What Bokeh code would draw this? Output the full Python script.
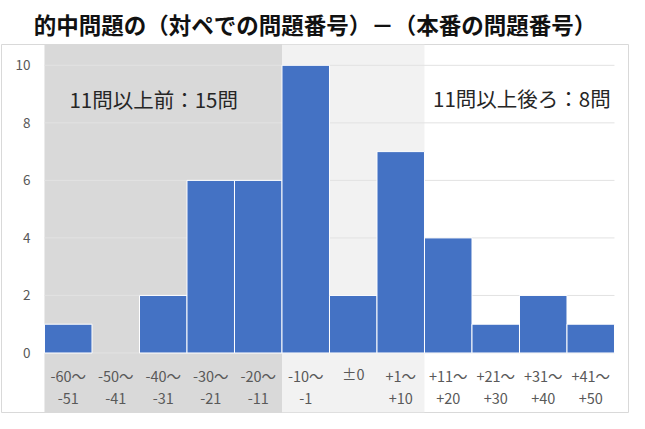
from bokeh.plotting import figure
from bokeh.models import Range1d
from bokeh.core.properties import value
from bokeh.embed import file_html
from bokeh.resources import INLINE

# ---- data ----
title_text = "的中問題の（対ペでの問題番号）－（本番の問題番号）"
cat_line1 = ["-60～", "-50～", "-40～", "-30～", "-20～", "-10～", "±0", "+1～", "+11～", "+21～", "+31～", "+41～"]
cat_line2 = ["-51", "-41", "-31", "-21", "-11", "-1", "", "+10", "+20", "+30", "+40", "+50"]
counts = [1, 0, 2, 6, 6, 10, 2, 7, 4, 1, 2, 1]
y_ticks = [0, 2, 4, 6, 8, 10]
tick_labels = ["0", "2", "4", "6", "8", "10"]
before_label = "11問以上前：15問"
after_label = "11問以上後ろ：8問"
before_count = 5   # categories in the "before" zone
near_count = 3     # categories in the "near" zone

FONT = "Noto Sans CJK JP"
n = len(counts)

# ---- ranges ----
X_LEFT, X_RIGHT = -0.905, n + 0.295
Y_BOT, Y_TOP = -2.069, 10.724

p = figure(width=629, height=413, output_backend="svg", toolbar_location=None,
           x_range=Range1d(X_LEFT, X_RIGHT), y_range=Range1d(Y_BOT, Y_TOP),
           x_axis_location=None, y_axis_location=None,
           min_border_left=1, min_border_right=1, min_border_top=41, min_border_bottom=1)
p.grid.visible = False
p.outline_line_color = "#d9d9d9"
p.outline_line_width = 1
p.background_fill_color = "white"
p.border_fill_color = "white"

p.title.text = title_text
p.title.align = "center"
p.title.text_font = FONT
p.title.text_font_size = "22.5px"
p.title.text_font_style = "bold"
p.title.text_color = "#111111"

# background zones
p.quad(left=[0, before_count], right=[before_count, before_count + near_count],
       bottom=[Y_BOT, Y_BOT], top=[Y_TOP, Y_TOP],
       fill_color=["#d9d9d9", "#f2f2f2"], line_color=None)

# gridlines
p.segment(x0=[0] * len(y_ticks), x1=[n] * len(y_ticks), y0=y_ticks, y1=y_ticks,
          line_color="#e2e2e2", line_width=1)

# bars
nz = [i for i in range(n) if counts[i] > 0]
p.quad(left=[i for i in nz], right=[i + 1 for i in nz], bottom=[0] * len(nz),
       top=[counts[i] for i in nz], fill_color="#4472C4", line_color="white", line_width=1)

# y tick labels
p.text(x=[-0.295] * len(y_ticks), y=y_ticks, text=tick_labels,
       text_font=value(FONT), text_font_size="13.5px", text_color="#595959",
       text_align="right", text_baseline="middle")

# category labels
centers = [i + 0.5 for i in range(n)]
y1 = [-0.8 if cat_line2[i] else -0.7 for i in range(n)]
p.text(x=centers, y=y1, text=cat_line1, text_font=value(FONT), text_font_size="14.5px",
       text_color="#595959", text_align="center", text_baseline="middle")
p.text(x=centers, y=[-1.57] * n, text=cat_line2, text_font=value(FONT), text_font_size="14.5px",
       text_color="#595959", text_align="center", text_baseline="middle")

# zone annotations
p.text(x=[0.526], y=[8.83], text=[before_label], text_font=value(FONT), text_font_size="20.5px",
       text_color="#262626", text_align="left", text_baseline="middle")
p.text(x=[8.18], y=[8.86], text=[after_label], text_font=value(FONT), text_font_size="20.5px",
       text_color="#262626", text_align="left", text_baseline="middle")

open("out.html", "w").write(file_html(p, INLINE))
